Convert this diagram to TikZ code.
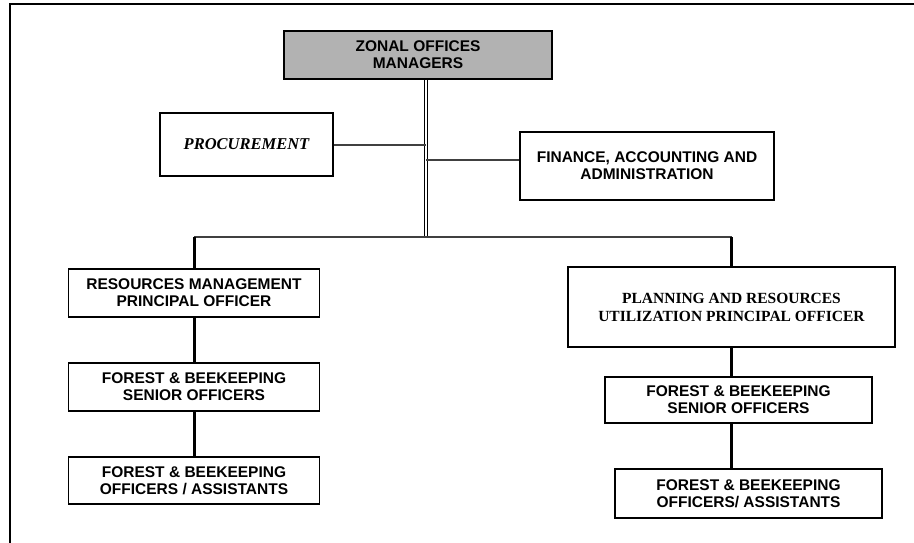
\documentclass[tikz,border=0pt]{standalone}
\usepackage{fontspec}
\setmainfont{Liberation Sans}
\newfontfamily\timesfont{Liberation Serif}
\usepackage{tikz}
\usetikzlibrary{positioning}

\tikzset{
	unitbox/.style={draw, line width=1.8pt, inner sep=3pt, align=center,
		font=\bfseries\fontsize{15.5}{17}\selectfont},
	trunk/.style={double, double distance=1.6pt, line width=1.6pt},
	drop/.style={line width=3pt},
	branch/.style={line width=2pt, black!75}
}

\begin{document}
\begin{tikzpicture}[x=1pt, y=-1pt]
		\useasboundingbox (0,0) rectangle (914,543);
		\draw[line width=1.6pt] (914,4) -- (10,4) -- (10,543);

		\draw (418,55) node[unitbox, fill=black!30, minimum width=268pt, minimum height=48pt] (zonal) {ZONAL OFFICES\\MANAGERS}
		(246.5,144.5) node[unitbox, minimum width=173pt, minimum height=63pt, font=\timesfont\bfseries\itshape\fontsize{16.5}{17}\selectfont] (proc) {PROCUREMENT}
		(647,166) node[unitbox, minimum width=254pt, minimum height=68pt] (fin) {FINANCE, ACCOUNTING AND\\ADMINISTRATION}
		(194,293) node[unitbox, minimum width=251pt, minimum height=48pt] (resmgmt) {RESOURCES MANAGEMENT\\PRINCIPAL OFFICER}
		(194,387) node[unitbox, minimum width=251pt, minimum height=48pt] (lsenior) {FOREST \& BEEKEEPING\\SENIOR OFFICERS}
		(194,480.5) node[unitbox, minimum width=251pt, minimum height=47pt] (lofficers) {FOREST \& BEEKEEPING\\OFFICERS / ASSISTANTS}
		(731.5,307) node[unitbox, minimum width=327pt, minimum height=80pt, font=\timesfont\bfseries\fontsize{15.5}{18}\selectfont] (planning) {PLANNING AND RESOURCES\\UTILIZATION PRINCIPAL OFFICER}
		(738.5,400) node[unitbox, minimum width=267pt, minimum height=46pt] (rsenior) {FOREST \& BEEKEEPING\\SENIOR OFFICERS}
		(748.5,493.5) node[unitbox, minimum width=267pt, minimum height=49pt] (rofficers) {FOREST \& BEEKEEPING\\OFFICERS/ ASSISTANTS};

		\coordinate (bus) at (426,237);

		\draw[trunk] (zonal.south -| bus) -- (bus);
		\draw[branch] (proc.east) -- (proc.east -| bus);
		\draw[branch] ([yshift=6pt]fin.west) -- ([yshift=6pt]fin.west -| bus);
		\draw[branch] (bus) -- (bus -| resmgmt.north);
		\draw[branch] (bus) -- (bus -| planning.north);
		\draw[drop] (bus -| resmgmt.north) -- (resmgmt.north);
		\draw[drop] (bus -| planning.north) -- (planning.north);
		\draw[drop] (resmgmt) -- (lsenior);
		\draw[drop] (lsenior) -- (lofficers);
		\draw[drop] (planning.south) -- (planning.south |- rsenior.north);
		\draw[drop] (planning.south |- rsenior.south) -- (planning.south |- rofficers.north);
	\end{tikzpicture}
\end{document}
